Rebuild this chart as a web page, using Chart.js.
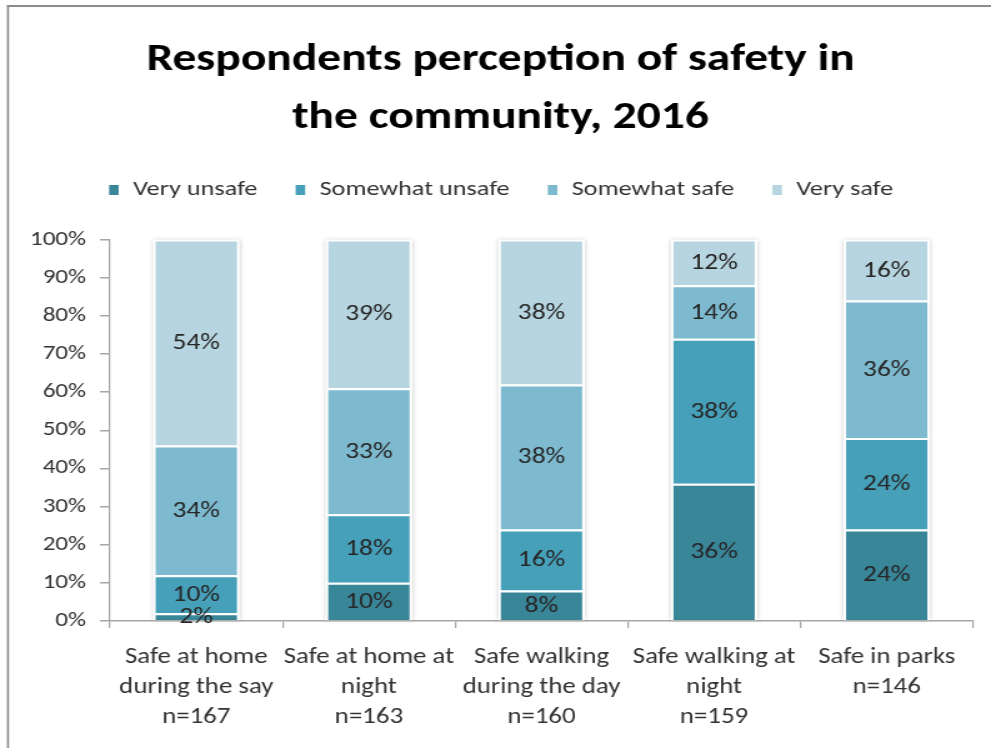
<!DOCTYPE html>
<html>
<head>
<meta charset="utf-8">
<title>Respondents perception of safety in the community, 2016</title>
<script src="https://cdn.jsdelivr.net/npm/chart.js@4/dist/chart.umd.min.js"></script>
<style>
  html, body { margin: 0; padding: 0; background: #fff; overflow: hidden; }
  #wrap { width: 991px; height: 748px; }
</style>
</head>
<body>
<div id="wrap"><canvas id="myChart"></canvas></div>
<script>
// survey categories (x axis, one line per array entry)
const categories = [
  ['Safe at home', 'during the say', 'n=167'],
  ['Safe at home at', 'night', 'n=163'],
  ['Safe walking', 'during the day', 'n=160'],
  ['Safe walking at', 'night', 'n=159'],
  ['Safe in parks', 'n=146']
];
const seriesNames = ['Very unsafe', 'Somewhat unsafe', 'Somewhat safe', 'Very safe'];
const veryUnsafe     = [2, 10, 8, 36, 24];
const somewhatUnsafe = [10, 18, 16, 38, 24];
const somewhatSafe   = [34, 33, 38, 14, 36];
const verySafe       = [54, 39, 38, 12, 16];
const yTicks = [0, 10, 20, 30, 40, 50, 60, 70, 80, 90, 100];

const colors = ['#3a8699', '#47a0b9', '#7ebacf', '#b7d5e0'];
const fontFamily = 'Carlito, Lato, sans-serif';
const axisColor = '#a6a6a6';
const textColor = '#333333';

// the chart is drawn narrow and shown 1.25x wider, which gives the wide lettering
const sx = 1.25;
const px = v => v / sx;

const canvas = document.getElementById('myChart');
canvas.width = Math.round(991 / sx);
canvas.height = 748;
canvas.style.width = '991px';
canvas.style.height = '748px';

// grey frame round the chart
const frame = {
  id: 'frame',
  beforeDraw(chart) {
    const ctx = chart.ctx;
    ctx.save();
    ctx.fillStyle = '#fff';
    ctx.fillRect(0, 0, chart.width, chart.height);
    ctx.fillStyle = '#8c8c8c';
    ctx.fillRect(px(7), 5, chart.width, 2);
    ctx.fillRect(px(7), 5, px(2), chart.height);
    ctx.restore();
  }
};

// soft shadow behind each stacked column
const columnShadow = {
  id: 'columnShadow',
  beforeDatasetsDraw(chart) {
    const ctx = chart.ctx;
    const first = chart.getDatasetMeta(0).data;
    const last = chart.getDatasetMeta(chart.data.datasets.length - 1).data;
    ctx.save();
    ctx.shadowColor = 'rgba(0,0,0,0.22)';
    ctx.shadowBlur = 4;
    ctx.fillStyle = '#fff';
    first.forEach((bar, j) => {
      const top = last[j].y;
      ctx.fillRect(bar.x - bar.width / 2, top, bar.width, bar.base - top);
    });
    ctx.restore();
  }
};

// percentage written in the middle of every segment
const segmentLabels = {
  id: 'segmentLabels',
  afterDatasetsDraw(chart) {
    const ctx = chart.ctx;
    ctx.save();
    ctx.font = '22px ' + fontFamily;
    ctx.fillStyle = '#262626';
    ctx.textAlign = 'center';
    ctx.textBaseline = 'middle';
    chart.data.datasets.forEach((ds, i) => {
      chart.getDatasetMeta(i).data.forEach((bar, j) => {
        const p = bar.getCenterPoint();
        ctx.fillText(ds.data[j] + '%', p.x, p.y + 1);
      });
    });
    ctx.restore();
  }
};

const seriesData = [veryUnsafe, somewhatUnsafe, somewhatSafe, verySafe];

function graficar(ctx) {
  return new Chart(ctx, {
    type: 'bar',
    data: {
      labels: categories,
      datasets: seriesNames.map((name, i) => ({
        label: name,
        data: seriesData[i],
        backgroundColor: colors[i],
        borderColor: '#ffffff',
        borderWidth: 2,
        barPercentage: 0.5,
        categoryPercentage: 1
      }))
    },
    options: {
      responsive: false,
      animation: false,
      devicePixelRatio: 1,
      layout: { padding: { left: px(28), right: px(18), top: 0, bottom: 0 } },
      plugins: {
        tooltip: { enabled: false },
        title: {
          display: true,
          text: ['Respondents perception of safety in', 'the community, 2016'],
          color: '#000',
          font: { family: fontFamily, size: 38, weight: 'bold', lineHeight: '58px' },
          padding: { top: 31, bottom: 3 }
        },
        legend: {
          display: true,
          position: 'top',
          labels: {
            boxWidth: px(12),
            boxHeight: 12,
            padding: px(37),
            color: textColor,
            font: { family: fontFamily, size: 21 }
          }
        },
        // empty block that keeps the plot clear of the legend
        subtitle: {
          display: true,
          position: 'top',
          weight: 500,
          text: ' ',
          font: { size: 1, lineHeight: 1 },
          padding: { top: 0, bottom: 28 }
        }
      },
      scales: {
        x: {
          stacked: true,
          border: { color: axisColor, width: 1.5 },
          grid: { drawOnChartArea: false, tickLength: 7, color: axisColor, lineWidth: px(1.5) },
          ticks: {
            color: textColor,
            padding: 15,
            maxRotation: 0,
            autoSkip: false,
            font: { family: fontFamily, size: 21.5, lineHeight: '30px' }
          }
        },
        y: {
          stacked: true,
          min: 0,
          max: 100,
          afterFit(scale) { scale.width = px(82); },
          afterBuildTicks(scale) { scale.ticks = yTicks.map(v => ({ value: v })); },
          border: { color: axisColor, width: px(1.5) },
          grid: { drawOnChartArea: false, tickLength: px(10), color: axisColor, lineWidth: 1.5 },
          ticks: {
            color: textColor,
            padding: px(14),
            font: { family: fontFamily, size: 20 },
            callback: v => v + '%'
          }
        }
      }
    },
    plugins: [frame, columnShadow, segmentLabels]
  });
}

function getChars() {
  const ctx = canvas.getContext('2d');
  graficar(ctx);
}
getChars();
</script>
</body>
</html>
